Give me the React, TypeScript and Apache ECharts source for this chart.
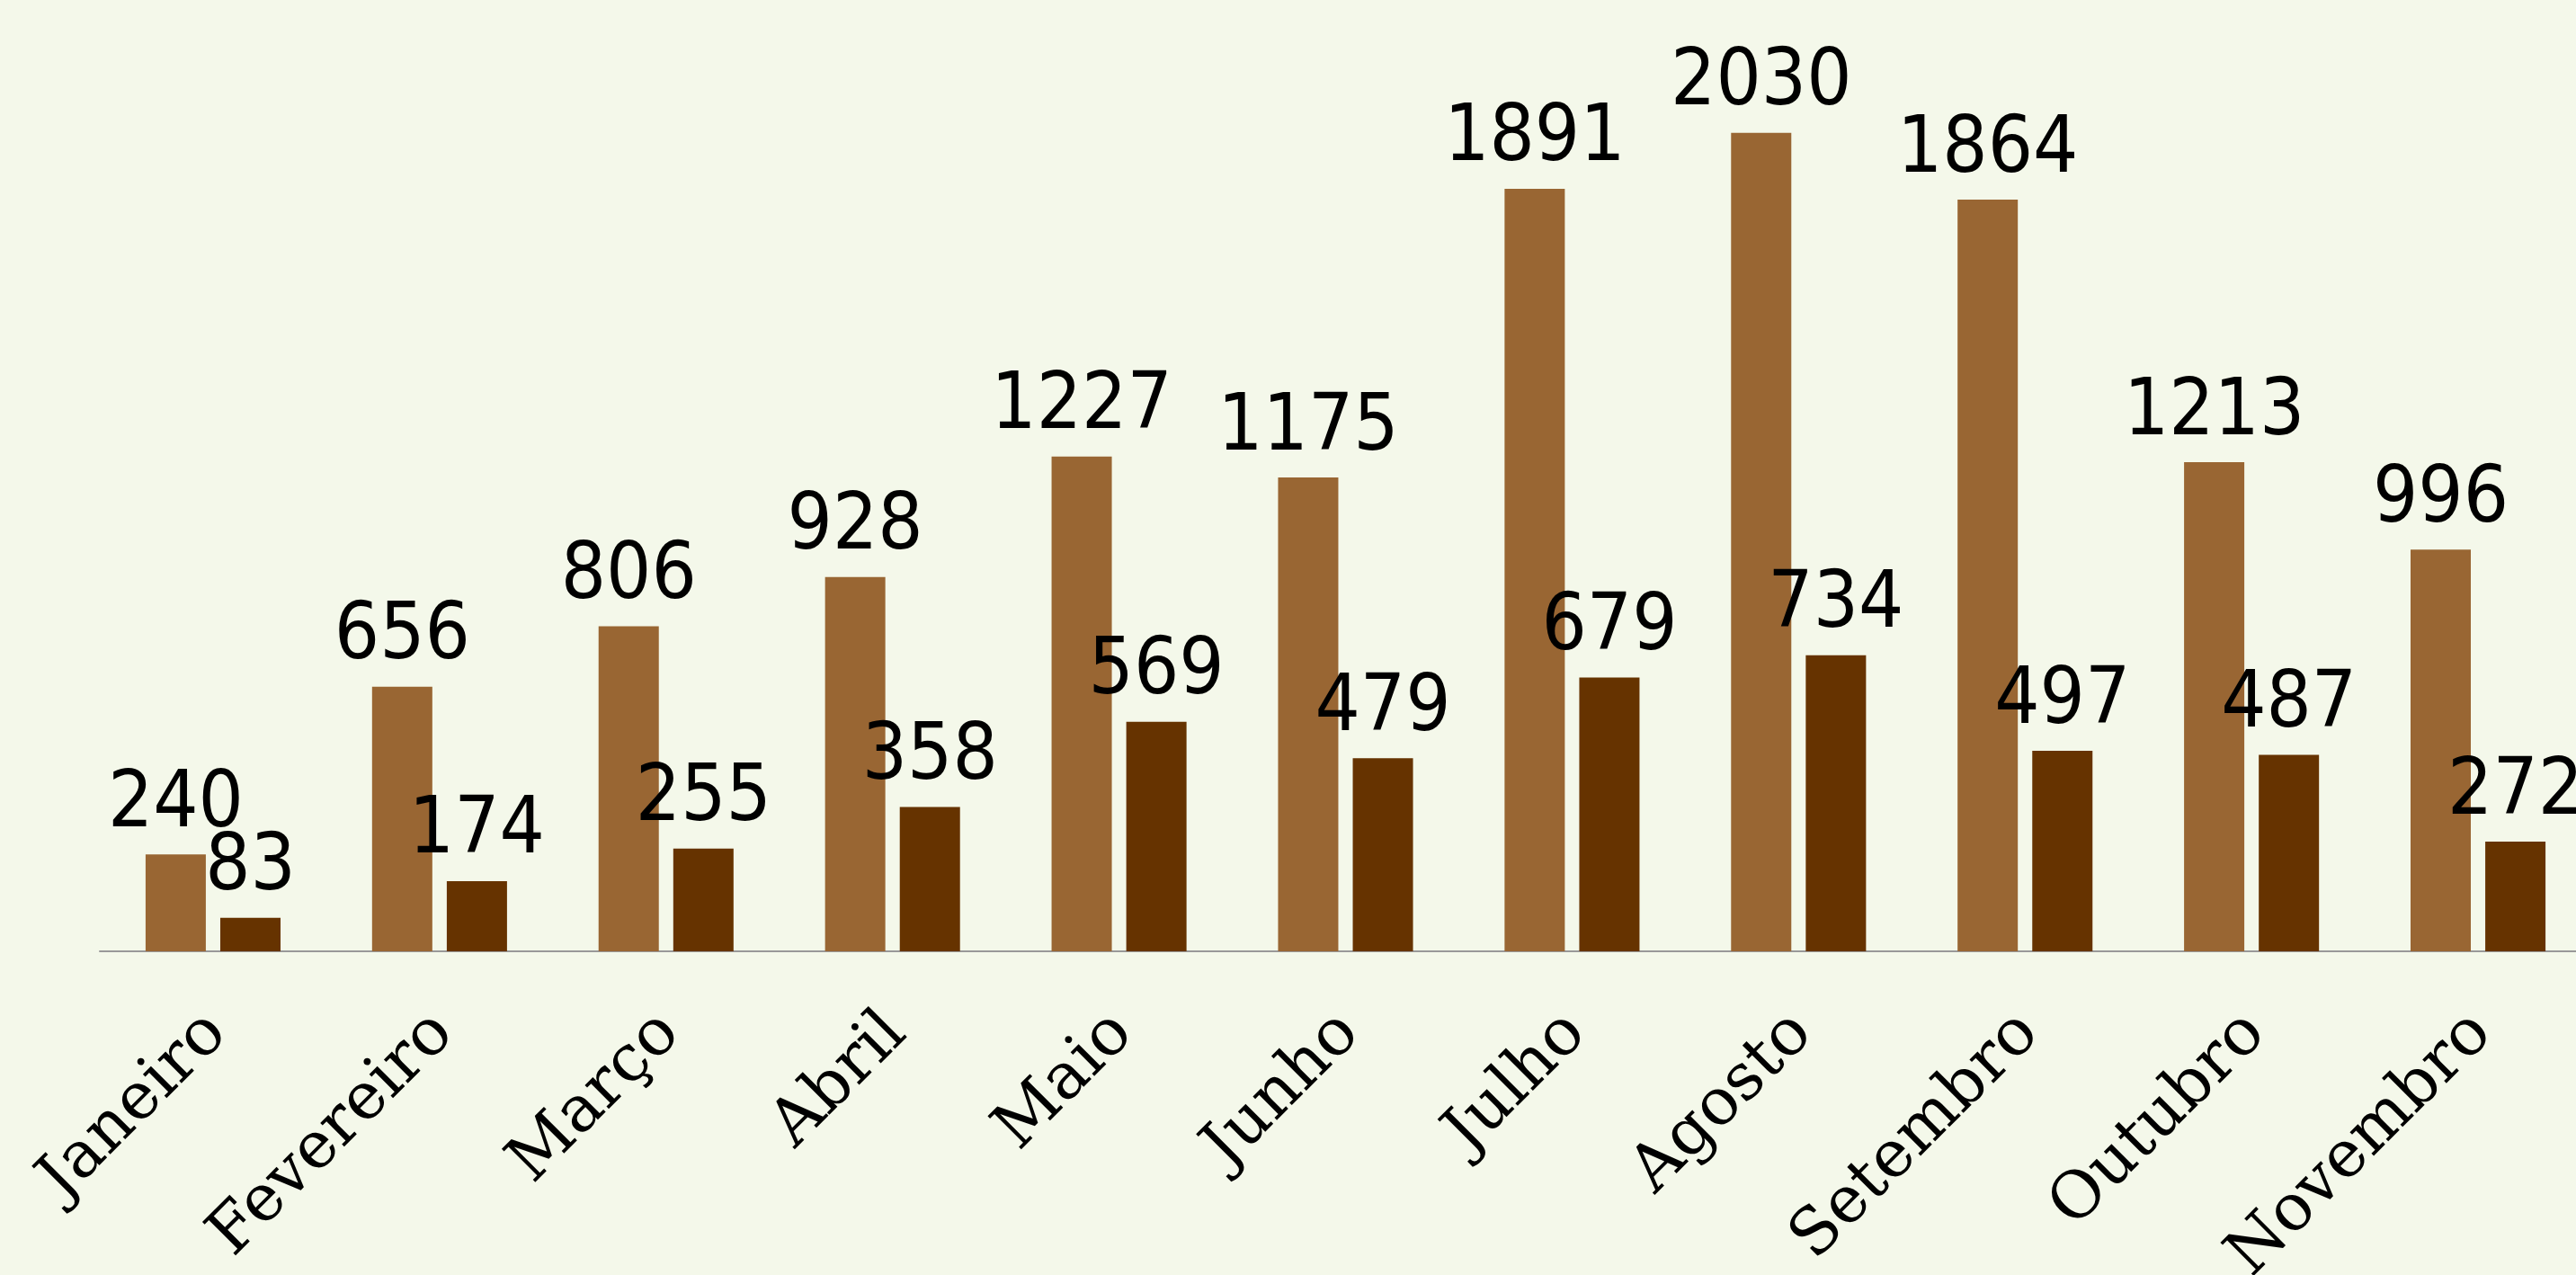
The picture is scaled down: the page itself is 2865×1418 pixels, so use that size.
import React, { useEffect, useRef } from "react";
import * as echarts from "echarts";

const categories = ["Janeiro", "Fevereiro", "Março", "Abril", "Maio", "Junho", "Julho", "Agosto", "Setembro", "Outubro", "Novembro"];
const seriesA = [240, 656, 806, 928, 1227, 1175, 1891, 2030, 1864, 1213, 996];
const seriesB = [83, 174, 255, 358, 569, 479, 679, 734, 497, 487, 272];

export default function App() {
  const ref = useRef<HTMLDivElement>(null);
  useEffect(() => {
    if (!ref.current) return;
    const chart = echarts.init(ref.current, undefined, { renderer: "svg" });
    const labelStyle = {
      show: true,
      position: "top" as const,
      distance: 18,
      fontFamily: "DejaVu Sans Condensed, DejaVu Sans",
      fontSize: 88,
      color: "#000",
    };
    chart.setOption({
      animation: false,
      backgroundColor: "#F4F8EA",
      grid: { left: 111, top: 49, width: 2771, height: 1009, containLabel: false, outerBoundsMode: "none" },
      xAxis: {
        type: "category",
        data: categories,
        axisTick: { show: false },
        axisLine: { lineStyle: { color: "#999999", width: 2 } },
        axisLabel: {
          rotate: 45,
          margin: 76,
          fontFamily: "DejaVu Serif",
          fontSize: 72,
          color: "#000",
          interval: 0,
        },
      },
      yAxis: {
        type: "value",
        min: 0,
        max: 2250,
        show: false,
        splitLine: { show: false },
      },
      series: [
        {
          type: "bar",
          data: seriesA,
          barWidth: 67,
          barGap: "24%",
          itemStyle: { color: "#996633" },
          label: labelStyle,
        },
        {
          type: "bar",
          data: seriesB,
          barWidth: 67,
          itemStyle: { color: "#663300" },
          label: labelStyle,
        },
      ],
    });
    return () => chart.dispose();
  }, []);
  return (
    <div style={{ position: "fixed", left: 0, top: 0, width: 2865, height: 1418, overflow: "hidden", background: "#F4F8EA" }}>
      <div ref={ref} style={{ width: 3000, height: 1418 }} />
    </div>
  );
}
